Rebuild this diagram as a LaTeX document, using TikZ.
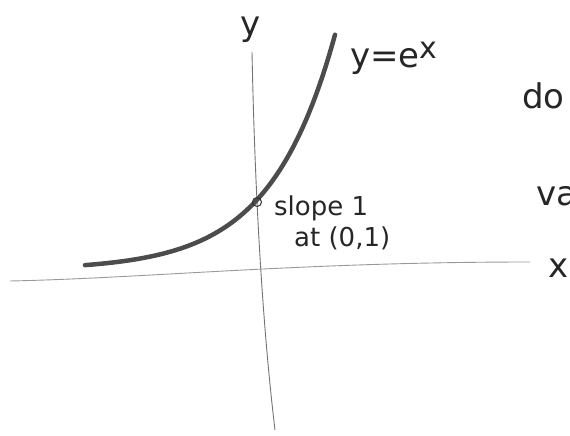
\documentclass[tikz,border=0pt]{standalone}
\usepackage{fontspec}
\setmainfont{DejaVu Sans}
\begin{document}
\begin{tikzpicture}[x=1pt,y=-1pt,
  axis/.style={draw=black!55,line width=0.9pt},
  curve/.style={draw=black!70,line width=4.5pt,line cap=round},
  hand/.style={inner sep=0pt,anchor=west,text=black!85,font=\fontsize{34}{38}\selectfont},
  small/.style={inner sep=0pt,anchor=west,text=black!85,font=\fontsize{26}{30}\selectfont}]
\useasboundingbox (0,0) rectangle (570,436);
% axes
\coordinate (ytop) at (252,52);
\coordinate (ybot) at (275,430);
\coordinate (xl) at (10,281);
\coordinate (xr) at (530,262);
\draw[axis] (ytop) .. controls (255,200) and (263,330) .. (ybot);
\draw[axis,black!40] (xl) .. controls (150,278) and (300,262) .. (xr);
% curve y = e^x
\draw[curve] plot[domain=85:335,samples=80,smooth] (\x,{270-4.88*exp(0.0155*(\x-85))});
\node[circle,draw=black!80,line width=1pt,minimum size=9pt,inner sep=0pt] (pt) at (257,202) {};
% labels
\node[hand] (ylab) at (240,30) {y};
\node[hand] (eq) at (350,58) {y=e\textsuperscript{\fontsize{30}{30}\selectfont x}};
\node[hand] (do) at (522,96) {do};
\node[hand] (va) at (536,196) {va};
\node[hand] (xlab) at (548,268) {x};
\node[small] (s1) at (274,208) {slope 1};
\node[small] (s2) at (294,238) {at (0,1)};
\end{tikzpicture}
\end{document}
